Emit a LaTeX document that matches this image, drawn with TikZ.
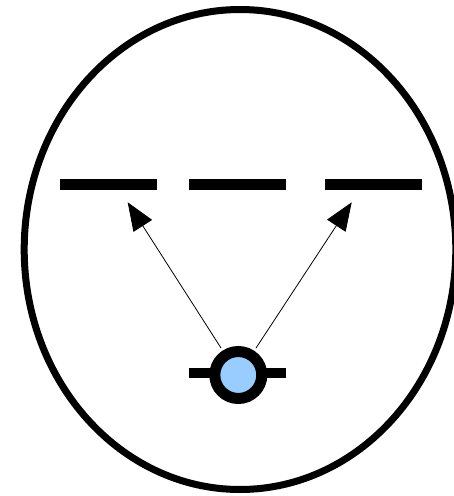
\documentclass[tikz,border=0pt]{standalone}
\usetikzlibrary{arrows.meta}
\tikzset{
  slit/.style={fill=black,inner sep=0pt,minimum width=97pt,minimum height=11pt},
  ray/.style={line width=0.8pt,-{Triangle[length=28pt,width=22pt]}}
}
\begin{document}
\begin{tikzpicture}[x=1pt,y=-1pt]
  \clip (0,0) rectangle (454,496);
  % outer boundary
  \draw[line width=7pt] (240,249.5) ellipse (215.8 and 240);
  % row of slits
  \node[slit] (bl) at (108.5,184.5) {};
  \node[slit] (bm) at (237,184.5) {};
  \node[slit] (br) at (373,184.5) {};
  % source on its holder
  \node[slit,minimum height=10pt] (axle) at (237,373) {};
  \node[circle,draw,line width=11pt,fill={rgb,255:red,153;green,204;blue,255},
        inner sep=0pt,minimum size=47pt] (src) at (238.3,375) {};
  % rays
  \coordinate (t1) at (127.7,202.3);
  \coordinate (t2) at (351.7,202.3);
  \draw[ray,shorten <=3pt] (src) -- (t1);
  \draw[ray,shorten <=3pt] (src) -- (t2);
\end{tikzpicture}
\end{document}
